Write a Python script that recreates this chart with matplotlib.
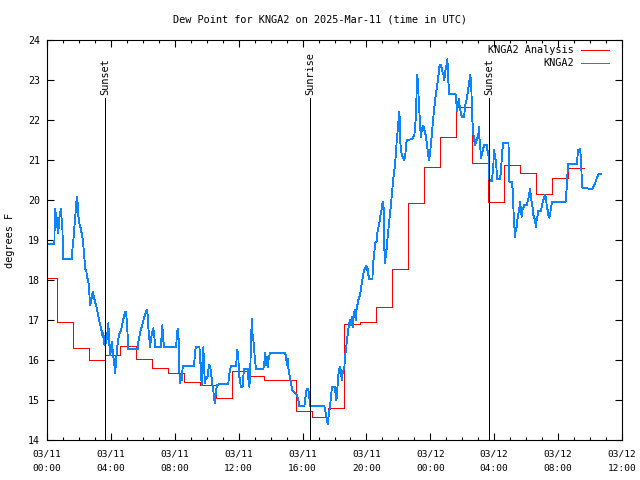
import numpy as np
import matplotlib
matplotlib.use("Agg")
import matplotlib.pyplot as plt
from matplotlib.ticker import MultipleLocator, FixedLocator

# ---------------- data ----------------
# hours since 2025-03-11 00:00 UTC
blue_hours = [
    0.13, 0.46, 0.50, 0.54, 0.58, 0.64, 0.71, 0.75, 0.81, 0.88, 0.92, 0.96, 1.02, 1.55, 1.58,
    1.65, 1.71, 1.75, 1.80, 1.83, 1.88, 1.92, 1.96, 2.02, 2.11, 2.17, 2.24, 2.30, 2.34, 2.40,
    2.46, 2.50, 2.57, 2.63, 2.67, 2.71, 2.76, 2.82, 2.86, 2.92, 2.96, 3.02, 3.07, 3.13, 3.17,
    3.24, 3.30, 3.36, 3.43, 3.49, 3.53, 3.57, 3.59, 3.63, 3.69, 3.76, 3.80, 3.84, 3.88, 3.93,
    3.96, 4.01, 4.05, 4.09, 4.15, 4.21, 4.26, 4.30, 4.34, 4.40, 4.46, 4.53, 4.61, 4.68, 4.74,
    4.82, 4.88, 4.95, 5.01, 5.05, 5.09, 5.70, 5.72, 5.82, 5.93, 6.07, 6.16, 6.24, 6.31, 6.34,
    6.45, 6.51, 6.57, 6.66, 6.72, 6.78, 7.14, 7.18, 7.22, 7.28, 7.33, 8.08, 8.12, 8.18, 8.25,
    8.28, 8.33, 8.39, 8.43, 8.50, 8.53, 9.20, 9.27, 9.31, 9.54, 9.58, 9.64, 9.69, 9.72, 9.79,
    9.83, 9.89, 9.96, 10.04, 10.10, 10.16, 10.25, 10.31, 10.38, 10.41, 10.46, 10.50, 10.54, 10.58, 10.66,
    10.73, 11.35, 11.40, 11.46, 11.52, 11.83, 11.88, 11.92, 11.98, 12.02, 12.09, 12.13, 12.25, 12.29, 12.35,
    12.57, 12.60, 12.67, 12.71, 12.76, 12.82, 12.86, 12.92, 12.96, 13.02, 13.09, 13.54, 13.61, 13.65, 13.71,
    13.76, 13.82, 13.88, 13.96, 14.03, 14.90, 14.97, 15.01, 15.07, 15.11, 15.22, 15.36, 15.42, 15.53, 15.64,
    15.74, 15.80, 16.11, 16.16, 16.22, 16.26, 16.36, 16.41, 16.47, 17.36, 17.45, 17.51, 17.58, 17.61, 17.66,
    17.72, 17.76, 17.83, 17.86, 18.03, 18.08, 18.12, 18.16, 18.24, 18.30, 18.35, 18.41, 18.45, 18.49, 18.62,
    18.66, 18.77, 18.87, 18.93, 18.97, 19.04, 19.08, 19.14, 19.18, 19.22, 19.29, 19.35, 19.39, 19.46, 19.49,
    19.60, 19.71, 19.77, 19.85, 19.98, 20.02, 20.06, 20.12, 20.18, 20.37, 20.43, 20.49, 20.54, 20.64, 20.68,
    20.81, 20.90, 20.96, 21.02, 21.06, 21.10, 21.12, 21.16, 21.21, 21.23, 21.27, 21.37, 21.48, 21.58, 21.68,
    21.79, 21.90, 22.00, 22.06, 22.09, 22.10, 22.21, 22.27, 22.35, 22.42, 22.52, 22.84, 23.00, 23.09, 23.15,
    23.19, 23.23, 23.29, 23.36, 23.40, 23.48, 23.56, 23.63, 23.73, 23.78, 23.88, 23.92, 23.98, 24.09, 24.19,
    24.30, 24.40, 24.50, 24.57, 24.65, 24.72, 24.78, 24.82, 24.86, 24.92, 24.97, 25.03, 25.07, 25.09, 25.13,
    25.19, 25.59, 25.63, 25.67, 25.72, 25.78, 25.86, 25.97, 26.11, 26.19, 26.28, 26.38, 26.49, 26.55, 26.59,
    26.63, 26.69, 26.74, 26.80, 26.86, 26.91, 26.94, 27.01, 27.05, 27.07, 27.11, 27.18, 27.22, 27.26, 27.38,
    27.53, 27.57, 27.63, 27.70, 27.85, 27.91, 27.95, 27.99, 28.05, 28.12, 28.16, 28.20, 28.37, 28.43, 28.47,
    28.51, 28.57, 28.89, 28.93, 28.95, 29.10, 29.16, 29.20, 29.26, 29.30, 29.35, 29.41, 29.47, 29.56, 29.62,
    29.66, 29.72, 29.76, 29.82, 29.89, 30.04, 30.14, 30.20, 30.24, 30.29, 30.35, 30.41, 30.45, 30.56, 30.60,
    30.66, 30.73, 30.76, 30.93, 30.98, 31.04, 31.12, 31.18, 31.25, 31.29, 31.35, 31.39, 31.45, 31.50, 31.56,
    31.64, 32.48, 32.54, 32.60, 32.64, 33.17, 33.21, 33.27, 33.38, 33.42, 33.48, 33.52, 34.11, 34.21, 34.31,
    34.42, 34.52, 34.67,
]
blue_values = [
    18.90, 18.90, 19.79, 19.46, 19.67, 19.33, 19.17, 19.48, 19.67, 19.79, 19.50, 19.33, 18.52, 18.52, 18.71,
    19.00, 19.29, 19.50, 19.75, 19.92, 20.07, 19.92, 19.62, 19.42, 19.29, 19.17, 19.00, 18.75, 18.54, 18.27,
    18.25, 18.04, 18.02, 17.83, 17.54, 17.38, 17.50, 17.58, 17.71, 17.60, 17.54, 17.42, 17.38, 17.27, 17.19,
    17.04, 16.93, 16.83, 16.71, 16.58, 16.67, 16.46, 16.38, 16.46, 16.42, 16.58, 16.75, 16.92, 16.58, 16.17,
    16.12, 16.29, 16.46, 16.33, 16.08, 15.92, 15.67, 15.83, 16.08, 16.33, 16.50, 16.67, 16.71, 16.83, 16.96,
    17.08, 17.19, 17.19, 16.92, 16.58, 16.27, 16.27, 16.46, 16.67, 16.83, 17.04, 17.17, 17.25, 17.12, 16.83,
    16.33, 16.50, 16.67, 16.79, 16.58, 16.32, 16.32, 16.67, 16.87, 16.50, 16.32, 16.32, 16.54, 16.79, 16.50,
    15.75, 15.42, 15.63, 15.50, 15.83, 15.85, 15.85, 16.18, 16.32, 16.32, 16.12, 15.62, 15.37, 15.87, 16.32,
    15.83, 15.42, 15.58, 15.54, 15.75, 15.88, 15.75, 15.54, 15.33, 15.25, 15.08, 14.92, 15.08, 15.25, 15.37,
    15.39, 15.39, 15.62, 15.75, 15.85, 15.85, 16.04, 16.25, 16.08, 15.62, 15.50, 15.33, 15.33, 15.60, 15.77,
    15.77, 15.54, 15.33, 15.58, 16.25, 17.04, 16.67, 16.50, 16.32, 16.00, 15.77, 15.77, 15.96, 16.17, 15.87,
    16.08, 15.83, 16.04, 16.17, 16.18, 16.18, 16.08, 15.87, 16.04, 15.79, 15.54, 15.25, 15.21, 15.17, 15.13,
    15.00, 14.85, 14.85, 15.00, 15.17, 15.27, 15.27, 15.13, 14.85, 14.85, 14.67, 14.54, 14.40, 14.54, 14.67,
    14.83, 15.00, 15.29, 15.33, 15.33, 15.08, 15.00, 15.17, 15.63, 15.79, 15.83, 15.71, 15.50, 15.63, 15.83,
    16.08, 16.46, 16.79, 16.92, 17.00, 16.88, 17.08, 16.83, 17.00, 17.17, 17.25, 17.00, 17.33, 17.42, 17.50,
    17.63, 17.92, 18.08, 18.25, 18.35, 18.25, 18.33, 18.13, 18.02, 18.02, 18.46, 18.67, 18.93, 18.96, 19.18,
    19.42, 19.67, 19.79, 19.96, 19.92, 19.58, 18.79, 18.42, 18.75, 18.58, 18.83, 19.25, 19.67, 20.08, 20.54,
    20.88, 21.50, 21.96, 22.21, 21.96, 21.50, 21.13, 21.08, 21.00, 21.08, 21.50, 21.52, 21.62, 22.04, 22.83,
    23.13, 22.83, 22.33, 21.83, 21.58, 21.79, 21.85, 21.75, 21.58, 21.42, 21.08, 21.00, 21.17, 21.62, 22.08,
    22.50, 22.79, 23.08, 23.35, 23.38, 23.29, 23.17, 23.13, 23.00, 23.13, 23.33, 23.38, 23.52, 23.33, 22.96,
    22.64, 22.64, 22.42, 22.21, 22.38, 22.52, 22.27, 22.08, 22.08, 22.38, 22.52, 22.79, 23.13, 23.00, 22.54,
    22.00, 21.67, 21.50, 21.38, 21.46, 21.54, 21.50, 21.67, 21.83, 21.58, 21.38, 21.04, 21.12, 21.21, 21.38,
    21.38, 21.25, 21.17, 20.50, 20.46, 20.71, 20.92, 21.25, 21.08, 20.92, 20.67, 20.52, 20.52, 20.79, 21.04,
    21.25, 21.42, 21.42, 20.92, 20.46, 20.46, 20.25, 19.79, 19.33, 19.08, 19.25, 19.33, 19.58, 19.75, 19.96,
    19.79, 19.58, 19.75, 19.79, 19.88, 19.88, 20.04, 20.17, 20.27, 20.13, 19.92, 19.79, 19.63, 19.50, 19.33,
    19.50, 19.63, 19.73, 19.73, 19.83, 19.96, 20.04, 20.13, 20.04, 19.83, 19.75, 19.63, 19.56, 19.63, 19.83,
    19.96, 19.96, 20.33, 20.75, 20.90, 20.90, 21.08, 21.25, 21.27, 21.08, 20.54, 20.31, 20.27, 20.33, 20.42,
    20.54, 20.64, 20.64,
]

# analysis values: each applies from its start hour until the next one
red_hours = [0.05, 0.6, 1.6, 2.6, 3.6, 4.6, 5.6, 6.6, 7.6, 8.6, 9.6, 10.6, 11.6, 12.6, 13.6,
             14.6, 15.6, 16.6, 17.6, 18.6, 19.6, 20.6, 21.6, 22.6, 23.6, 24.6, 25.6, 26.6, 27.6,
             28.6, 29.6, 30.6, 31.6, 32.6, 33.6]
red_values = [18.06, 16.94, 16.30, 16.00, 16.12, 16.35, 16.03, 15.79, 15.67, 15.44, 15.37, 15.05,
              15.72, 15.59, 15.49, 15.49, 14.72, 14.57, 14.79, 16.90, 16.95, 17.33, 18.27, 19.92,
              20.82, 21.57, 22.32, 20.92, 19.96, 20.87, 20.67, 20.14, 20.54, 20.79, 20.79]

event_hours = [3.60, 16.47, 27.65]
event_labels = ["Sunset", "Sunrise", "Sunset"]
event_top = 22.55

xtick_hours = [0, 4, 8, 12, 16, 20, 24, 28, 32, 36]
xtick_labels = ["03/11\n00:00", "03/11\n04:00", "03/11\n08:00", "03/11\n12:00", "03/11\n16:00",
                "03/11\n20:00", "03/12\n00:00", "03/12\n04:00", "03/12\n08:00", "03/12\n12:00"]
ytick_values = [14, 15, 16, 17, 18, 19, 20, 21, 22, 23, 24]

title = "Dew Point for KNGA2 on 2025-Mar-11 (time in UTC)"
series_names = ["KNGA2 Analysis", "KNGA2"]

# ---------------- plot ----------------
RED = "#ff0000"
BLUE = "#0a84ff"
FONT = "DejaVu Sans Mono"
LW = 0.6

fig = plt.figure(figsize=(6.4, 4.8), dpi=100)
ax = fig.add_axes([47 / 640, 1 - 440 / 480, 575 / 640, 400 / 480])

ax.plot(red_hours, red_values, drawstyle="steps-post", color=RED, lw=LW, antialiased=False)
ax.plot(blue_hours, blue_values, color=BLUE, lw=LW, antialiased=False)

for h, lab in zip(event_hours, event_labels):
    ax.plot([h, h], [14, event_top], color="black", lw=LW, antialiased=False)
    ax.text(h + 0.02, event_top + 0.08, lab, rotation=90, ha="center", va="bottom",
            fontsize=7.4, family=FONT)

ax.set_xlim(0, 36)
ax.set_ylim(14, 24)
ax.xaxis.set_major_locator(FixedLocator(xtick_hours))
ax.set_xticklabels(xtick_labels, fontsize=6.8, family=FONT, linespacing=1.75)
ax.xaxis.set_minor_locator(MultipleLocator(1))
ax.yaxis.set_major_locator(FixedLocator(ytick_values))
ax.set_yticklabels([str(v) for v in ytick_values], fontsize=7.2, family=FONT)

ax.tick_params(which="major", direction="in", length=5, width=0.8, top=True, right=True, pad=5)
ax.tick_params(axis="x", which="major", pad=7)
ax.tick_params(which="minor", direction="in", length=2.5, width=0.8, top=True, right=False)
ax.tick_params(axis="y", which="minor", left=False, right=False)
for sp in ax.spines.values():
    sp.set_linewidth(0.8)

fig.text(0.5, 1 - 19 / 480, title, ha="center", va="center", fontsize=7.4, family=FONT)
fig.text(10 / 640, 0.5, "degrees F", rotation=90, ha="center", va="center", fontsize=7.4, family=FONT)

# legend (manual, gnuplot style)
for i, (name, col) in enumerate(zip(series_names, [RED, BLUE])):
    y = 1 - (50 + 12.7 * i - 40) / 400
    ax.text((574 - 47) / 575, y, name, transform=ax.transAxes, ha="right", va="center",
            fontsize=7.4, family=FONT)
    ax.plot([(581 - 47) / 575, (609 - 47) / 575], [y, y], transform=ax.transAxes,
            color=col, lw=LW, clip_on=False, antialiased=False)

fig.savefig("out.png", dpi=100)
